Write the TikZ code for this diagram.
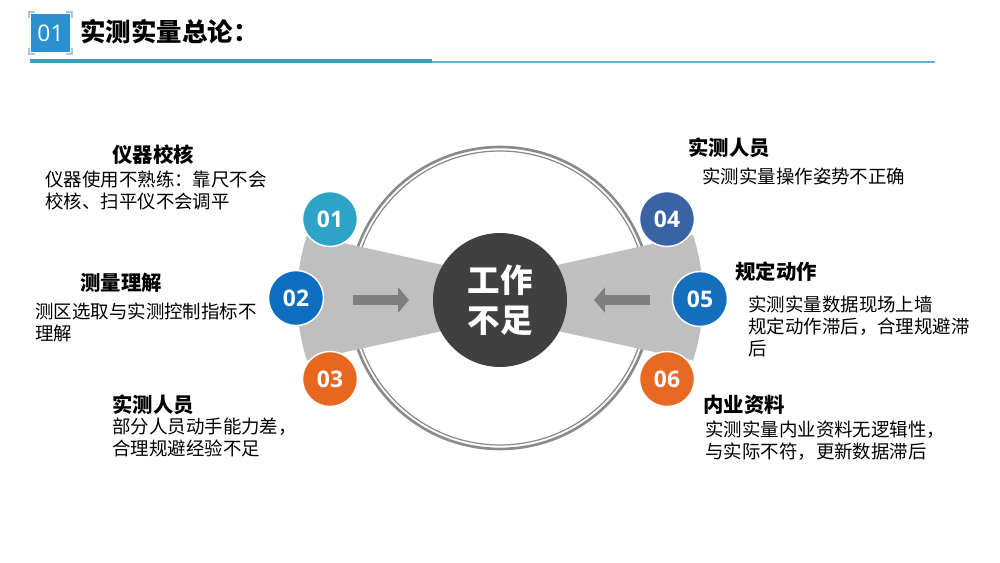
\documentclass[tikz,border=0pt]{standalone}
\usepackage{fontspec}
\setmainfont{Noto Sans CJK SC}
\newfontfamily\numfont{Open Sans}
\usetikzlibrary{arrows.meta,positioning}
\definecolor{hdrblue}{HTML}{2B8FD0}
\definecolor{brkcol}{HTML}{A9C6DC}
\definecolor{rulecol}{HTML}{3E9DBC}
\definecolor{ballA}{HTML}{2FA3C6}
\definecolor{ballB}{HTML}{0D6EC1}
\definecolor{ballC}{HTML}{E8671F}
\definecolor{ballD}{HTML}{3963A5}
\definecolor{ballE}{HTML}{1470BF}
\definecolor{ballF}{HTML}{E86A22}
\definecolor{coregray}{HTML}{404040}
\definecolor{wedgegray}{HTML}{BFBFBF}
\definecolor{ringgray}{HTML}{8A8A8A}
\definecolor{arrowgray}{HTML}{7F7F7F}

\begin{document}
\begin{tikzpicture}[
  x=0.02cm,y=-0.02cm,
  every node/.style={inner sep=0pt},
  numball/.style={circle,draw=white,line width=0.8pt,minimum size=1.1cm,
    text=white,font=\numfont\bfseries\fontsize{13}{13}\selectfont},
  head/.style={anchor=west,font=\bfseries\fontsize{11.6}{13}\selectfont},
  body/.style={anchor=north west,align=left,font=\fontsize{10.5}{12.5}\selectfont},
  blockarrow/.style={draw=arrowgray,line width=6.2pt,
    -{Triangle[width=0.5cm,length=0.22cm]}},
  brk/.style={draw=brkcol,line width=0.6pt}
]
  \fill[white] (0,0) rectangle (1000,563);
  \useasboundingbox (0,0) rectangle (1000,563);

  % header
  \node[fill=hdrblue,minimum width=0.78cm,minimum height=0.76cm,text=white,
    font=\numfont\fontsize{13}{13}\selectfont] (badge) at (50.5,33) {01};
  \draw[brk] (35,12) -- (29,12) -- (29,18);
  \draw[brk] (66,12) -- (72,12) -- (72,18);
  \draw[brk] (35,54) -- (29,54) -- (29,48);
  \draw[brk] (66,54) -- (72,54) -- (72,48);
  \node[anchor=west,font=\bfseries\fontsize{14.5}{14.5}\selectfont] (title) at (80,32) {实测实量总论：};
  \draw[rulecol,line width=2.3pt] (30,61) -- (432,61);
  \draw[rulecol!80,line width=0.6pt] (432,62) -- (935,62);

  % ring and wings
  \draw[ringgray,line width=1.5pt] (500,298) circle[radius=3.02cm];
  \draw[ringgray,line width=0.7pt] (500,298) circle[radius=2.94cm];
  \fill[wedgegray] (307,235) arc[start angle=162,end angle=198,radius=4.06cm]
    -- (470,325) -- (470,271) -- cycle;
  \fill[wedgegray] (693,235) arc[start angle=18,end angle=-18,radius=4.06cm]
    -- (530,325) -- (530,271) -- cycle;

  \coordinate (la) at (353,300);
  \coordinate (lb) at (409,300);
  \coordinate (ra) at (650,300);
  \coordinate (rb) at (594,300);
  \draw[blockarrow] (la) -- (lb);
  \draw[blockarrow] (ra) -- (rb);

  \node[circle,fill=coregray,minimum size=2.68cm,text=white,align=center,
    font=\bfseries\fontsize{18.5}{22.7}\selectfont] (core) at (500,300) {工作\\不足};

  % numbered balls
  \node[numball,fill=ballA] (n1) at (330,219) {01};
  \node[numball,fill=ballB] (n2) at (296,298) {02};
  \node[numball,fill=ballC] (n3) at (330,379) {03};
  \node[numball,fill=ballD] (n4) at (667,219) {04};
  \node[numball,fill=ballE] (n5) at (700,299) {05};
  \node[numball,fill=ballF] (n6) at (667,379) {06};

  % left texts
  \node[head] (t1) at (112,155) {仪器校核};
  \node[body] (d1) at (45,171) {仪器使用不熟练：靠尺不会\\校核、扫平仪不会调平};
  \node[head] (t2) at (80,283) {测量理解};
  \node[body] (d2) at (35,303) {测区选取与实测控制指标不\\理解};
  \node[head] (t3) at (112,405) {实测人员};
  \node[body] (d3) at (112,418) {部分人员动手能力差，\\合理规避经验不足};

  % right texts
  \node[head] (t4) at (688,148) {实测人员};
  \node[body] (d4) at (702,168) {实测实量操作姿势不正确};
  \node[head] (t5) at (735,272) {规定动作};
  \node[body] (d5) at (748,296) {实测实量数据现场上墙\\规定动作滞后，合理规避滞\\后};
  \node[head] (t6) at (703,405) {内业资料};
  \node[body] (d6) at (705,421) {实测实量内业资料无逻辑性，\\与实际不符，更新数据滞后};
\end{tikzpicture}
\end{document}
